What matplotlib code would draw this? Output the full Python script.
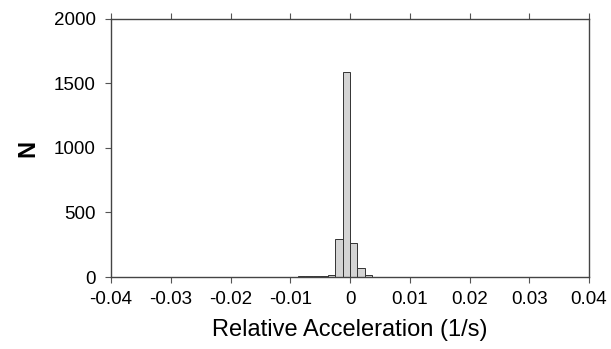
import matplotlib.pyplot as plt
import numpy as np

plt.rcParams['font.family'] = ['Liberation Sans', 'DejaVu Sans']

# histogram of relative acceleration, 64 bins from -0.04 to 0.04
bin_lo = -0.04
bin_w = 0.00125
counts = [0] * 23 + [1, 3, 6, 8, 8, 10, 18,
                     295, 1590, 266, 67, 15] + [2, 1, 1, 1, 1, 1, 1, 1, 1, 1,
                                               1, 1, 1, 1, 1, 1, 1, 1, 1, 1,
                                               1, 1, 1, 1, 1, 1, 1, 1, 1]
xticks = [-0.04, -0.03, -0.02, -0.01, 0, 0.01, 0.02, 0.03, 0.04]
xlabels = ['-0.04', '-0.03', '-0.02', '-0.01', '0', '0.01', '0.02', '0.03', '0.04']
yticks = [0, 500, 1000, 1500, 2000]

left = bin_lo + bin_w * np.arange(len(counts))

fig = plt.figure(figsize=(6.11, 3.49), dpi=100)
ax = fig.add_axes([0.1817, 0.2063, 0.7823, 0.7393])
ax.bar(left, counts, width=bin_w, align='edge', color='#d4d4d4',
       edgecolor='#333333', linewidth=0.7)

ax.set_xlim(-0.04, 0.04)
ax.set_ylim(0, 2000)
ax.set_xticks(xticks)
ax.set_xticklabels(xlabels)
ax.set_yticks(yticks)
ax.tick_params(axis='x', direction='out', top=True, length=4, width=0.8,
               labelsize=13.5, pad=6, color='#555555')
ax.tick_params(axis='y', direction='out', length=4, width=0.8,
               labelsize=13.5, pad=7, color='#555555')
for s in ax.spines.values():
    s.set_linewidth(1.0)
    s.set_color('#444444')

ax.set_xlabel('Relative Acceleration (1/s)', fontsize=17, labelpad=8)
ax.set_ylabel('N', fontsize=17, fontweight='bold', labelpad=10, rotation=90)

fig.savefig('out.png', dpi=100)
